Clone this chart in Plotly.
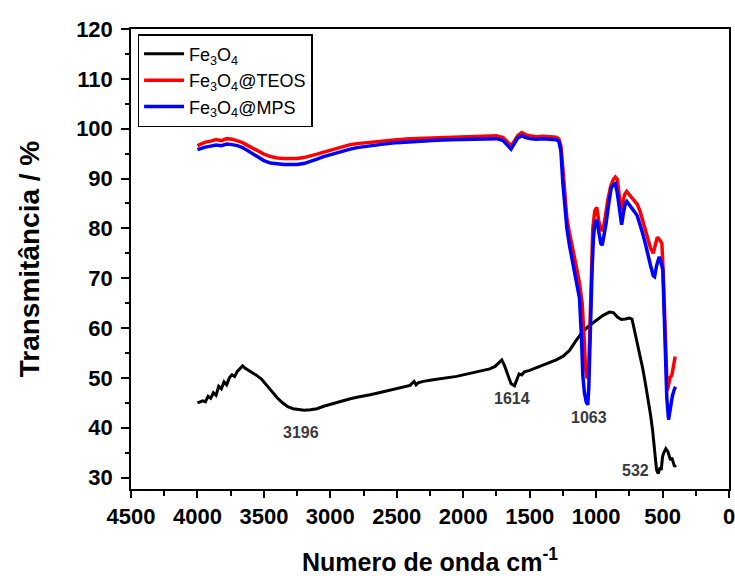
import plotly.graph_objects as go

# FTIR spectra: wavenumber (cm-1) vs transmittance (%)
fe3o4_wn = [4000, 3960, 3940, 3920, 3900, 3880, 3860, 3840, 3820, 3800, 3780, 3760, 3740, 3720,
            3700, 3680, 3660, 3640, 3620, 3600, 3560, 3520, 3480, 3440, 3400, 3360, 3320, 3280,
            3240, 3196, 3150, 3100, 3050, 3000, 2950, 2900, 2850, 2800, 2750, 2700, 2650, 2600,
            2550, 2500, 2450, 2400, 2370, 2355, 2340, 2300, 2250, 2200, 2150, 2100, 2050, 2000,
            1950, 1900, 1850, 1800, 1760, 1730, 1710, 1690, 1660, 1640, 1614, 1600, 1580, 1560,
            1540, 1500, 1450, 1400, 1350, 1300, 1250, 1200, 1150, 1100, 1050, 1000, 950, 900,
            870, 840, 810, 780, 750, 730, 710, 690, 670, 650, 630, 610, 590, 575, 560, 545, 532,
            520, 510, 500, 490, 475, 460, 450, 440, 430, 420, 410, 400]
fe3o4_t = [45.0, 45.4, 45.2, 46.3, 45.9, 47.0, 46.5, 48.3, 47.8, 49.2, 48.6, 50.0, 50.6, 50.3,
           51.3, 51.8, 52.4, 51.9, 51.6, 51.2, 50.6, 49.8, 48.5, 47.2, 46.0, 45.0, 44.2, 43.8,
           43.6, 43.5, 43.6, 43.8, 44.3, 44.7, 45.0, 45.4, 45.8, 46.1, 46.3, 46.6, 46.9, 47.2,
           47.5, 47.8, 48.1, 48.5, 49.3, 48.6, 49.0, 49.3, 49.5, 49.7, 49.9, 50.0, 50.3, 50.6,
           50.9, 51.2, 51.5, 51.8, 52.3, 53.1, 53.6, 52.5, 50.4, 48.8, 48.4, 49.5, 50.8, 50.6,
           51.2, 51.5, 52.0, 52.6, 53.1, 53.6, 54.3, 55.5, 57.5, 59.3, 60.5, 61.5, 62.5, 63.2,
           63.1, 62.2, 61.7, 61.8, 62.0, 61.8, 59.5, 56.8, 54.5, 52.0, 49.0, 46.0, 42.5, 39.5,
           35.5, 31.5, 30.8, 32.0, 31.5, 34.2, 35.0, 35.8, 35.2, 34.3, 33.5, 34.0, 32.8, 32.2, 32.5]

teos_wn = [4000, 3970, 3940, 3900, 3860, 3820, 3780, 3740, 3700, 3660, 3620, 3580, 3540, 3500,
           3450, 3400, 3350, 3300, 3250, 3200, 3150, 3100, 3050, 3000, 2950, 2900, 2850, 2800,
           2700, 2600, 2500, 2400, 2300, 2200, 2100, 2000, 1900, 1800, 1750, 1700, 1660, 1640,
           1620, 1590, 1560, 1530, 1500, 1450, 1400, 1350, 1300, 1280, 1265, 1250, 1235, 1220,
           1200, 1175, 1150, 1125, 1105, 1090, 1080, 1070, 1063, 1055, 1045, 1035, 1025, 1010,
           995, 980, 960, 945, 930, 910, 890, 870, 855, 840, 825, 812, 800, 785, 770, 750, 730,
           710, 690, 670, 650, 630, 610, 590, 570, 555, 540, 525, 505, 495, 485, 475, 465, 455,
           445, 430, 420, 410, 405]
teos_t = [96.6, 97.0, 97.3, 97.5, 97.8, 97.6, 98.0, 97.9, 97.6, 97.2, 96.6, 96.0, 95.4, 94.9,
          94.4, 94.1, 94.0, 94.0, 94.0, 94.2, 94.5, 94.9, 95.3, 95.7, 96.1, 96.5, 96.8, 97.0,
          97.3, 97.6, 97.8, 98.0, 98.1, 98.3, 98.4, 98.5, 98.6, 98.7, 98.6, 98.2, 97.2, 96.6,
          97.3, 98.6, 99.2, 98.8, 98.6, 98.4, 98.5, 98.4, 98.3, 97.9, 96.5, 92.0, 86.5, 82.0,
          79.0, 76.0, 72.5, 69.0, 65.0, 58.0, 52.0, 50.2, 50.0, 52.5, 62.0, 74.0, 80.0, 83.5,
          84.2, 81.5, 79.5, 80.0, 83.0, 86.0, 88.5, 89.8, 90.3, 89.8, 86.5, 83.6, 85.0, 86.8,
          87.4, 86.8, 86.2, 85.5, 84.8, 83.5, 81.5, 80.0, 78.0, 76.0, 75.0, 76.5, 78.2, 77.8,
          77.0, 71.0, 63.0, 53.0, 47.5, 48.5, 50.0, 50.5, 52.0, 54.0, 54.3]

mps_wn = [4000, 3970, 3940, 3900, 3860, 3820, 3780, 3740, 3700, 3660, 3620, 3580, 3540, 3500,
          3450, 3400, 3350, 3300, 3250, 3200, 3150, 3100, 3050, 3000, 2950, 2900, 2850, 2800,
          2700, 2600, 2500, 2400, 2300, 2200, 2100, 2000, 1900, 1800, 1750, 1700, 1660, 1640,
          1620, 1590, 1560, 1530, 1500, 1450, 1400, 1350, 1300, 1280, 1265, 1250, 1235, 1220,
          1200, 1175, 1150, 1125, 1110, 1100, 1088, 1075, 1063, 1055, 1048, 1040, 1030, 1020,
          1010, 995, 980, 965, 954, 940, 925, 905, 887, 870, 855, 840, 824, 808, 795, 780, 769,
          750, 730, 710, 690, 670, 650, 630, 610, 590, 570, 560, 545, 525, 510, 498, 490, 480,
          468, 455, 445, 435, 425, 410, 402]
mps_t = [95.8, 96.1, 96.3, 96.5, 96.7, 96.6, 96.9, 96.8, 96.6, 96.2, 95.6, 94.9, 94.2, 93.6,
         93.1, 92.9, 92.8, 92.8, 92.8, 93.0, 93.4, 93.9, 94.4, 94.8, 95.2, 95.6, 95.9, 96.2,
         96.6, 96.9, 97.2, 97.4, 97.6, 97.7, 97.8, 97.9, 98.0, 98.1, 98.0, 97.6, 96.5, 95.9,
         96.8, 98.1, 98.6, 98.2, 98.0, 97.9, 98.0, 97.9, 97.8, 97.4, 95.5, 89.0, 84.0, 80.0,
         76.5, 73.0, 69.5, 66.0, 58.0, 50.5, 47.0, 45.2, 44.6, 48.0, 55.0, 66.0, 72.0, 78.0,
         81.0, 81.7, 79.0, 77.0, 76.6, 78.5, 81.0, 85.0, 88.0, 88.8, 89.0, 87.0, 83.7, 80.7,
         83.0, 85.0, 85.4, 84.8, 84.0, 83.3, 82.5, 81.0, 79.0, 77.0, 74.5, 72.5, 70.5, 70.3,
         72.5, 74.3, 73.0, 71.7, 65.0, 55.0, 46.0, 41.6, 43.5, 45.5, 46.5, 47.8, 48.2]

# Band labels: (text, x position, y position)
band_labels = ["3196", "1614", "1063", "532"]
band_x = [3224, 1633, 1057, 705]
band_y = [39.1, 45.8, 42.1, 31.5]

FONT = "Liberation Sans, Arial, sans-serif"

fig = go.Figure()
fig.add_trace(go.Scatter(x=fe3o4_wn, y=fe3o4_t, mode="lines",
                         name="Fe<sub>3</sub>O<sub>4</sub>",
                         line=dict(color="black", width=3)))
fig.add_trace(go.Scatter(x=teos_wn, y=teos_t, mode="lines",
                         name="Fe<sub>3</sub>O<sub>4</sub>@TEOS",
                         line=dict(color="#ff0000", width=3.5)))
fig.add_trace(go.Scatter(x=mps_wn, y=mps_t, mode="lines",
                         name="Fe<sub>3</sub>O<sub>4</sub>@MPS",
                         line=dict(color="#0000ff", width=3.5)))

for txt, bx, by in zip(band_labels, band_x, band_y):
    fig.add_annotation(x=bx, y=by, text=txt, showarrow=False,
                       font=dict(family=FONT, size=16, color="#3a3a3a", weight="bold"))

fig.update_layout(
    width=735, height=576,
    margin=dict(l=131, r=6, t=29, b=87),
    paper_bgcolor="white", plot_bgcolor="white",
    font=dict(family=FONT, color="black"),
    showlegend=True,
    legend=dict(x=0.011, y=0.989, xanchor="left", yanchor="top",
                bgcolor="white", bordercolor="black", borderwidth=1.5,
                font=dict(family=FONT, size=18, color="black"),
                tracegroupgap=0, itemwidth=40),
)

fig.update_xaxes(
    range=[4500, 0], tick0=0, dtick=500, automargin=False,
    ticklabeloverflow="allow",
    ticks="outside", ticklen=7, tickwidth=1.5, tickcolor="black",
    minor=dict(ticks="outside", dtick=250, ticklen=5, tickwidth=1.5, tickcolor="black"),
    showline=True, linecolor="black", linewidth=1.5, mirror=True,
    showgrid=False, zeroline=False,
    tickfont=dict(family=FONT, size=22, weight="bold", color="black"),
    title=dict(text="Numero de onda cm<sup>-1</sup>", standoff=28,
               font=dict(family=FONT, size=25, weight="bold", color="black")),
)
fig.update_yaxes(
    range=[27.7, 120], tick0=30, dtick=10, automargin=False,
    ticks="outside", ticklen=8, tickwidth=1.5, tickcolor="black",
    minor=dict(ticks="outside", dtick=5, ticklen=4, tickwidth=1.5, tickcolor="black"),
    showline=True, linecolor="black", linewidth=1.5, mirror=True,
    showgrid=False, zeroline=False,
    tickfont=dict(family=FONT, size=22, weight="bold", color="black"),
    ticklabelstandoff=4,
    title=dict(text="Transmitância / %", standoff=28,
               font=dict(family=FONT, size=28, weight="bold", color="black")),
)

fig.write_html("out.html")
